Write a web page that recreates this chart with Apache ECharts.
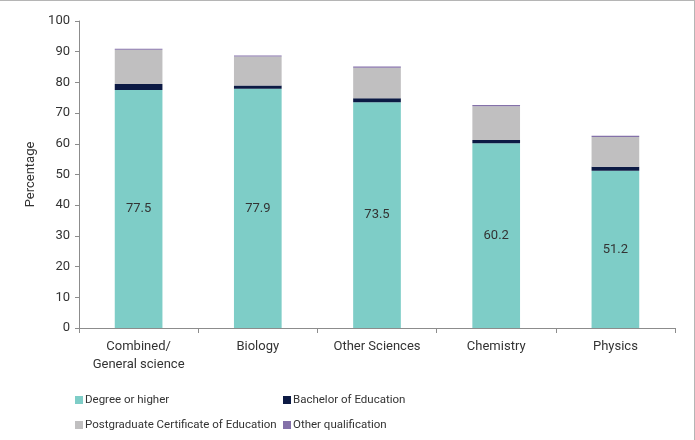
<!DOCTYPE html>
<html>
<head>
<meta charset="utf-8">
<script src="https://cdn.jsdelivr.net/npm/echarts@6/dist/echarts.min.js"></script>
<style>
  html, body { margin: 0; padding: 0; background: #fff; }
  .frame {
    position: relative;
    width: 695px;
    height: 440px;
    box-sizing: border-box;
    border-top: 1px solid #b5b5b5;
    border-right: 1px solid #b5b5b5;
  }
  #chart { position: absolute; top: 0; left: 0; width: 695px; height: 440px; }
</style>
</head>
<body>
<div class="frame"><div id="chart"></div></div>
<script>
  // values
  var categories = ['Combined/\nGeneral science', 'Biology', 'Other Sciences', 'Chemistry', 'Physics'];
  var degree = [77.5, 77.9, 73.5, 60.2, 51.2];
  var bachelor = [2.0, 1.1, 1.3, 1.0, 1.3];
  var pgce = [11.1, 9.4, 10.0, 11.0, 9.7];
  var other = [0.4, 0.4, 0.4, 0.4, 0.4];

  var font = 'Roboto, sans-serif';
  var textColor = '#333';

  var mychart = echarts.init(document.getElementById('chart'));

  function bar (name, data, color, withLabel) {
    return {
      name: name,
      type: 'bar',
      stack: 'total',
      barWidth: '40%',
      data: data,
      itemStyle: { color: color },
      label: {
        show: !!withLabel,
        position: 'inside',
        color: textColor,
        fontFamily: font,
        fontSize: 13
      }
    };
  }

  function legendBox (left, names) {
    return {
      left: left, top: 388, orient: 'vertical', itemGap: 13,
      itemWidth: 8, itemHeight: 8, icon: 'rect',
      textStyle: { color: textColor, fontSize: 11.5, fontFamily: font, padding: [0, 0, 0, -3] },
      data: names
    };
  }

  var option = {
    animation: false,
    textStyle: { fontFamily: font },
    grid: { left: 79, right: 20, top: 20, bottom: 113 },
    legend: [
      legendBox(70, ['Degree or higher', 'Postgraduate Certificate of Education']),
      legendBox(278, ['Bachelor of Education', 'Other qualification'])
    ],
    xAxis: {
      type: 'category',
      data: categories,
      axisLine: { lineStyle: { color: '#8c8c8c' } },
      axisTick: { show: true, length: 5, lineStyle: { color: '#8c8c8c' } },
      axisLabel: { color: textColor, fontSize: 13, fontFamily: font, margin: 10, lineHeight: 18, interval: 0 }
    },
    yAxis: {
      type: 'value',
      min: 0,
      max: 100,
      interval: 10,
      name: 'Percentage',
      nameLocation: 'middle',
      nameGap: 41,
      nameRotate: 90,
      nameTextStyle: { color: textColor, fontSize: 13, fontFamily: font },
      splitLine: { show: false },
      axisLine: { show: true, lineStyle: { color: '#8c8c8c' } },
      axisTick: { show: true, length: 4, lineStyle: { color: '#8c8c8c' } },
      axisLabel: { color: textColor, fontSize: 13, fontFamily: font, margin: 9 }
    },
    series: [
      bar('Degree or higher', degree, '#7ecdc7', true),
      bar('Bachelor of Education', bachelor, '#0c1a44'),
      bar('Postgraduate Certificate of Education', pgce, '#c0bfc0'),
      bar('Other qualification', other, '#8471a9')
    ]
  };

  mychart.setOption(option);
</script>
</body>
</html>
